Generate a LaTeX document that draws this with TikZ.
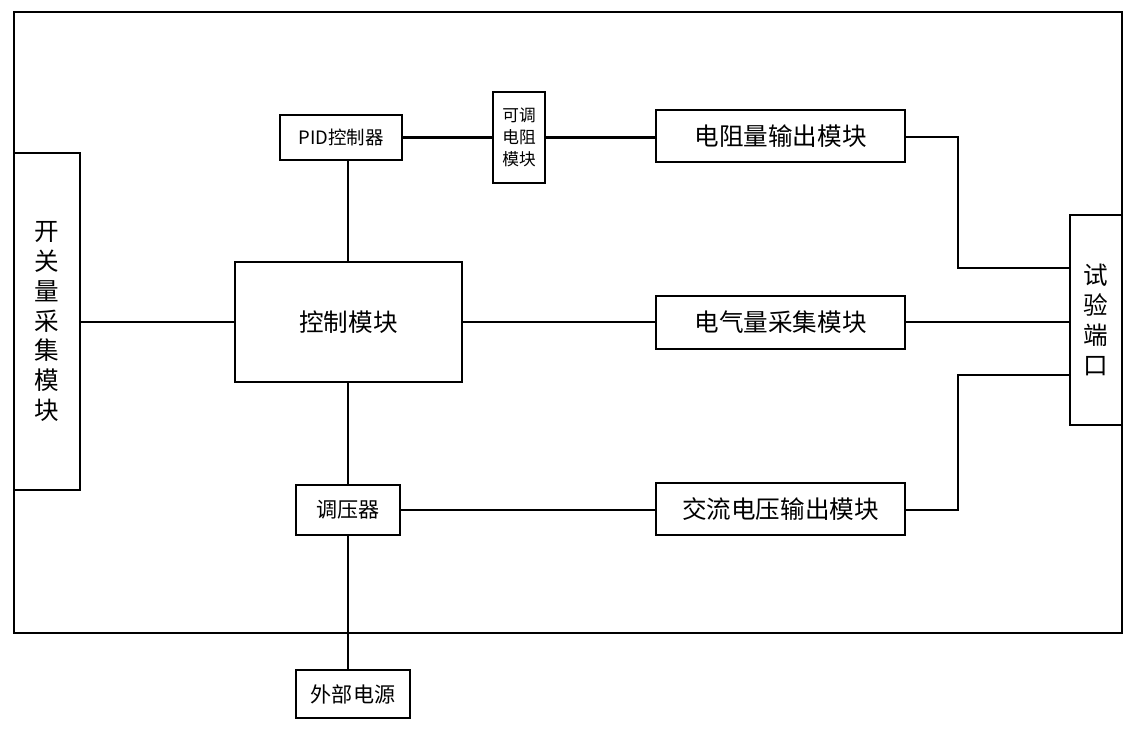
\documentclass[tikz,border=0pt]{standalone}
\usepackage{fontspec}
\setmainfont{Noto Sans CJK SC}
\tikzset{
  blk/.style={draw, line width=1.2pt, inner sep=0pt, align=center, font=\fontsize{14}{17}\selectfont},
  sblk/.style={blk, font=\fontsize{10.5}{13}\selectfont},
  ln/.style={line width=1.4pt}
}
\begin{document}
\begin{tikzpicture}[x=0.02cm, y=-0.02cm]
  \useasboundingbox (0,0) rectangle (1132,729);
  % frame
  \draw[line width=1.4pt] (14,12) rectangle (1122,633);
  % nodes
  \node[blk, minimum width=1.32cm, minimum height=6.74cm, text width=0.6cm] at (47,321.5) (kgl) {开\\关\\量\\采\\集\\模\\块};
  \node[sblk, minimum width=2.44cm, minimum height=0.9cm] at (341,137.5) (pid) {PID控制器};
  \node[sblk, minimum width=1.04cm, minimum height=1.82cm, text width=0.9cm, font=\fontsize{9.5}{12.5}\selectfont] at (519,137.5) (ktdz) {可调\\电阻\\模块};
  \node[blk, minimum width=4.98cm, minimum height=1.04cm] at (780.5,136) (dzl) {电阻量输出模块};
  \node[blk, minimum width=4.54cm, minimum height=2.4cm] at (348.5,322) (kz) {控制模块};
  \node[blk, minimum width=4.98cm, minimum height=1.06cm] at (780.5,322.5) (dql) {电气量采集模块};
  \node[sblk, minimum width=2.08cm, minimum height=1cm, font=\fontsize{12}{14}\selectfont] at (348,510) (tyq) {调压器};
  \node[blk, minimum width=4.98cm, minimum height=1.04cm] at (780.5,509) (jl) {交流电压输出模块};
  \node[blk, minimum width=1.04cm, minimum height=4.2cm, text width=0.6cm] at (1096,320) (sy) {试\\验\\端\\口};
  \node[sblk, minimum width=2.28cm, minimum height=0.96cm, font=\fontsize{12}{14}\selectfont] at (353,694) (wb) {外部电源};
  % connectors
  \draw[ln] (kgl.east |- kz) -- (kz.west);
  \draw[ln] (pid.south -| 348,0) -- (kz.north -| 348,0);
  \draw[ln] (kz.south -| 348,0) -- (tyq.north);
  \draw[ln] (tyq.south) -- (wb.north -| 348,0);
  \draw[ln] (pid.east) -- (ktdz.west |- pid);
  \draw[ln] (ktdz.east |- pid) -- (dzl.west |- pid);
  \draw[ln] (dzl.east |- 0,137) -| (958,268) -- (sy.west |- 0,268);
  \draw[ln] (kz.east) -- (dql.west |- kz);
  \draw[ln] (dql.east |- kz) -- (sy.west |- kz);
  \draw[ln] (tyq.east) -- (jl.west |- tyq);
  \draw[ln] (jl.east |- tyq) -| (958,375) -- (sy.west |- 0,375);
\end{tikzpicture}
\end{document}
